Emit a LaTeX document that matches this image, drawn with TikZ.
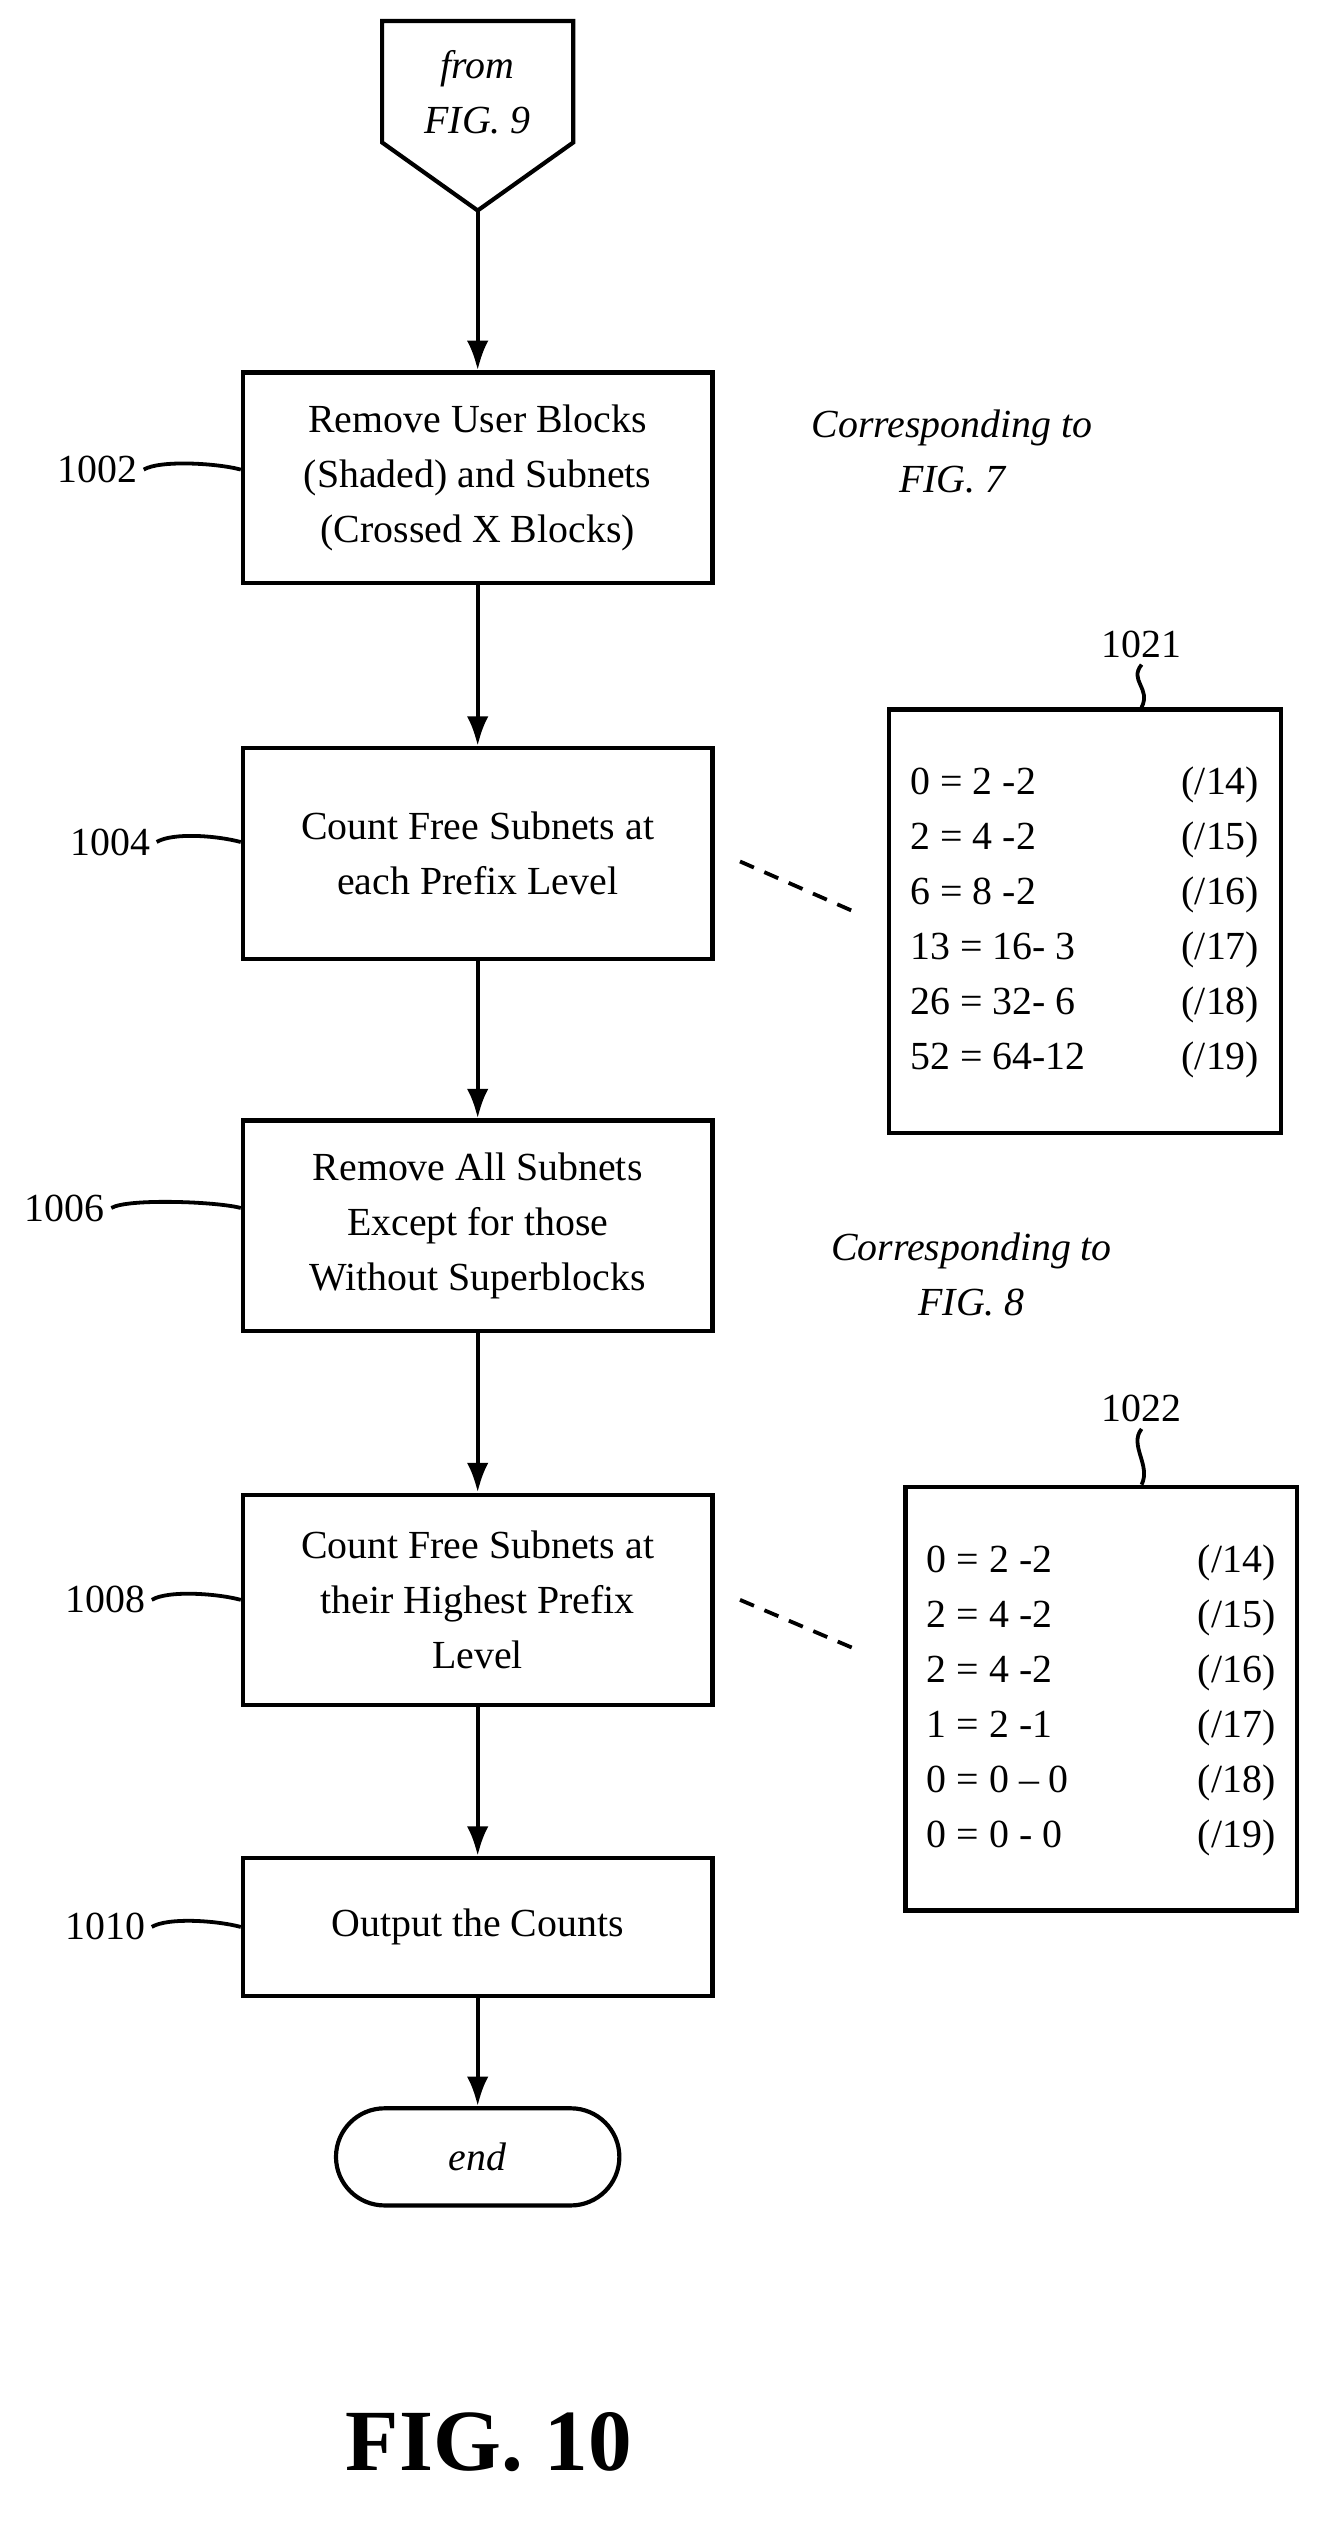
\documentclass[tikz,border=0pt]{standalone}
\usepackage{fontspec}
\setmainfont{Liberation Serif}
\usetikzlibrary{positioning,shapes.geometric,arrows.meta}

\begin{document}
\begin{tikzpicture}[x=0.03cm, y=-0.03cm, font=\fontsize{21}{29}\selectfont,
	stepbox/.style = {draw, line width=2.2pt, minimum width=8.7cm, minimum height=3.9cm, align=center},
	countbox/.style = {draw, line width=2.2pt, minimum width=7.25cm, minimum height=7.85cm, align=left, inner sep=0pt},
	ref/.style = {font=\fontsize{21}{25}\selectfont},
	flow/.style = {-{Latex[length=0.55cm, width=0.4cm]}, line width=2.2pt},
	squig/.style = {line width=2pt}]
	\useasboundingbox (0,0) rectangle (815,1568);
	% off-page connector
	\draw[line width=2.2pt] (236,13) -- (354,13) -- (354,88) -- (295,130) -- (236,88) -- cycle;
	\node[align=center, font=\fontsize{21}{29}\selectfont\itshape] (from) at (295,57) {from\\FIG. 9};
	\coordinate (fromtip) at (295,130);
	
	\node[stepbox] (b1002) at (295,295) {Remove User Blocks\\(Shaded) and Subnets\\(Crossed X Blocks)};
	\node[stepbox] (b1004) at (295,527) {Count Free Subnets at\\each Prefix Level};
	\node[stepbox] (b1006) at (295,757) {Remove All Subnets\\Except for those\\Without Superblocks};
	\node[stepbox] (b1008) at (295,988) {Count Free Subnets at\\their Highest Prefix\\Level};
	\node[stepbox, minimum height=2.55cm] (b1010) at (295,1190) {Output the Counts};
	\node[draw, line width=2.2pt, rounded corners=0.9cm, minimum width=5.25cm, minimum height=1.8cm,
		font=\fontsize{21}{29}\selectfont\itshape] (end) at (295,1332) {end};
	
	\node[align=center, font=\fontsize{21}{29}\selectfont\itshape] (fig7) at (588,279) {Corresponding to\\FIG. 7};
	\node[align=center, font=\fontsize{21}{29}\selectfont\itshape] (fig8) at (600,787) {Corresponding to\\FIG. 8};
	
	\node[countbox] (t1021) at (670,569) {%
		\renewcommand{\arraystretch}{1.0}\begin{tabular}{@{}p{4.6cm}l@{}}
		0 = 2 -2 & (/14)\\ 2 = 4 -2 & (/15)\\ 6 = 8 -2 & (/16)\\
		13 = 16- 3 & (/17)\\ 26 = 32- 6 & (/18)\\ 52 = 64-12 & (/19)
		\end{tabular}};
	\node[countbox] (t1022) at (680,1049) {%
		\renewcommand{\arraystretch}{1.0}\begin{tabular}{@{}p{4.6cm}l@{}}
		0 = 2 -2 & (/14)\\ 2 = 4 -2 & (/15)\\ 2 = 4 -2 & (/16)\\
		1 = 2 -1 & (/17)\\ 0 = 0 -- 0 & (/18)\\ 0 = 0 - 0 & (/19)
		\end{tabular}};
	
	\node[ref] (l1002) at (60,290) {1002};
	\node[ref] (l1004) at (68,520) {1004};
	\node[ref] (l1006) at (40,746) {1006};
	\node[ref] (l1008) at (65,988) {1008};
	\node[ref] (l1010) at (65,1190) {1010};
	\node[ref] (l1021) at (705,398) {1021};
	\node[ref] (l1022) at (705,870) {1022};
	
	% leader squiggles
	\foreach \l/\b in {l1002/b1002, l1004/b1004, l1006/b1006, l1008/b1008, l1010/b1010}
		\draw[squig] (\l.east) .. controls +(10,-6) and +(-15,-4) .. (\b.west |- \l.east);
	\draw[squig] (l1021.south) .. controls +(-8,10) and +(6,-12) .. (t1021.north -| l1021.south);
	\draw[squig] (l1022.south) .. controls +(-8,10) and +(6,-12) .. (t1022.north -| l1022.south);
	
	\draw[dash pattern=on 8pt off 6pt, line width=2pt] (457,532) -- (532,565);
	\draw[dash pattern=on 8pt off 6pt, line width=2pt] (457,988) -- (532,1020);
	
	\draw[flow] (fromtip) -- (b1002);
	\draw[flow] (b1002) -- (b1004);
	\draw[flow] (b1004) -- (b1006);
	\draw[flow] (b1006) -- (b1008);
	\draw[flow] (b1008) -- (b1010);
	\draw[flow] (b1010) -- (end);
	
	\node[font=\fontsize{46}{50}\selectfont\bfseries] (title) at (302,1508) {FIG. 10};
\end{tikzpicture}
\end{document}
